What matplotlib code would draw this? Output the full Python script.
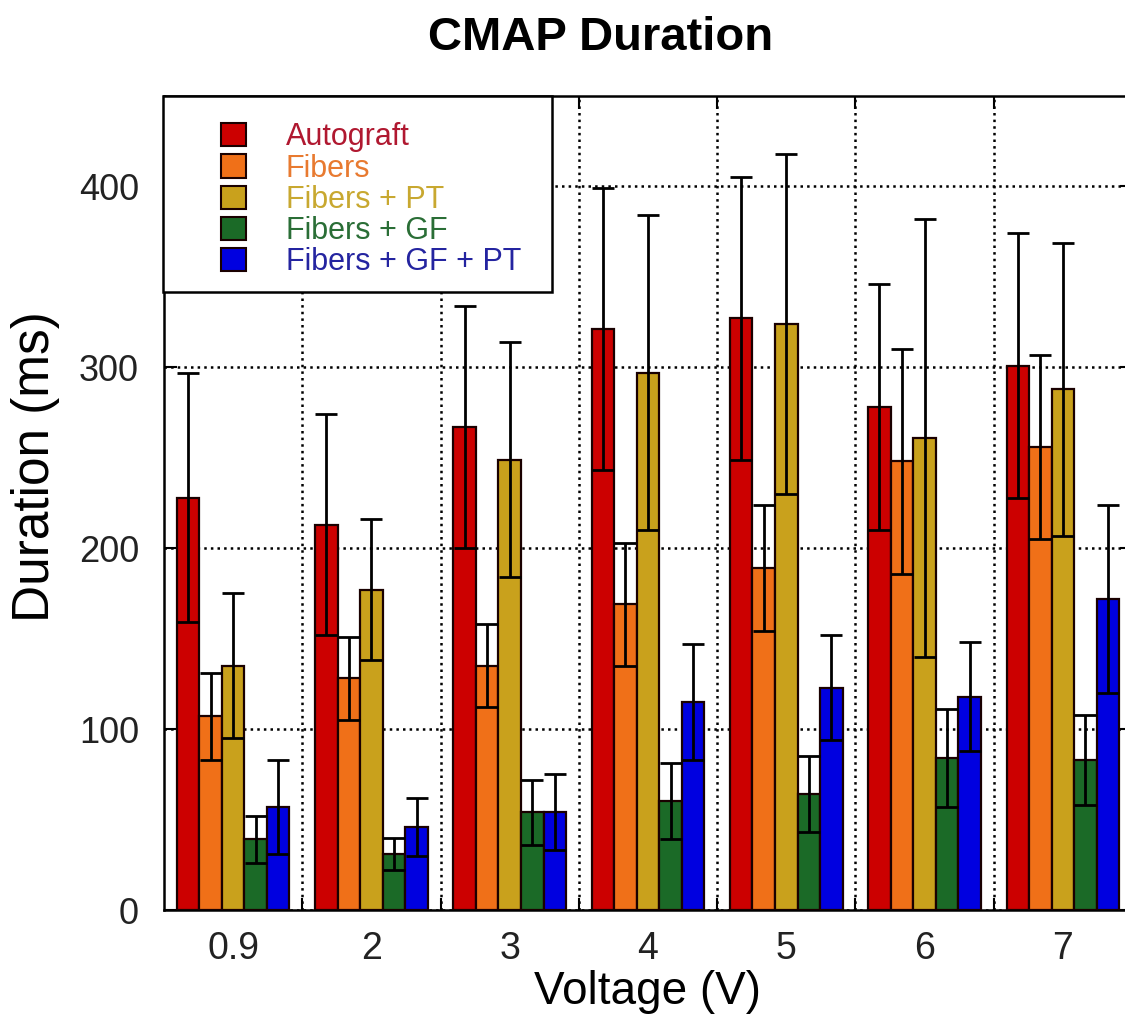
import matplotlib
matplotlib.use("Agg")
import matplotlib.pyplot as plt
import numpy as np
from matplotlib.patches import Rectangle, Patch

plt.rcParams['font.family'] = ['Liberation Sans', 'DejaVu Sans']

voltages = ["0.9", "2", "3", "4", "5", "6", "7"]

autograft = [228, 213, 267, 321, 327, 278, 301]
autograft_err = [69, 61, 67, 78, 78, 68, 73]
fibers = [107, 128, 135, 169, 189, 248, 256]
fibers_err = [24, 23, 23, 34, 35, 62, 51]
fibers_pt = [135, 177, 249, 297, 324, 261, 288]
fibers_pt_err = [40, 39, 65, 87, 94, 121, 81]
fibers_gf = [39, 31, 54, 60, 64, 84, 83]
fibers_gf_err = [13, 9, 18, 21, 21, 27, 25]
fibers_gf_pt = [57, 46, 54, 115, 123, 118, 172]
fibers_gf_pt_err = [26, 16, 21, 32, 29, 30, 52]

groups = ["Autograft", "Fibers", "Fibers + PT", "Fibers + GF", "Fibers + GF + PT"]
colors = ["#cc0000", "#f07018", "#c9a11c", "#1b6a27", "#0000e0"]
text_colors = ["#b01830", "#e87a30", "#c8a830", "#2a6e36", "#2424a0"]

series = [autograft, fibers, fibers_pt, fibers_gf, fibers_gf_pt]
errors = [autograft_err, fibers_err, fibers_pt_err, fibers_gf_err, fibers_gf_pt_err]

fig = plt.figure(figsize=(11.25, 10.21), dpi=100)
# axes runs a little past the right edge of the figure
ax = fig.add_axes([164 / 1125, 111 / 1021, 968 / 1125, 814 / 1021])

x = np.arange(len(voltages))
width = 0.163
for i, (vals, err) in enumerate(zip(series, errors)):
    pos = x + (i - 2) * width
    ax.bar(pos, vals, width, color=colors[i], edgecolor="#1a0000",
           linewidth=1.6, zorder=3)
    ax.errorbar(pos, vals, yerr=err, fmt="none", ecolor="black",
                elinewidth=2, capsize=8, capthick=2, zorder=4)

ax.set_xlim(-0.5, len(voltages) - 0.5)
ax.set_ylim(0, 450)

ax.set_xticks(x)
ax.set_xticklabels(voltages)
ax.set_xticks(x[:-1] + 0.5, minor=True)
ax.set_yticks([0, 100, 200, 300, 400])

ax.tick_params(axis="x", which="major", length=0, pad=15, labelsize=27)
ax.tick_params(axis="x", which="minor", direction="in", length=9, width=1.5,
               top=True, bottom=True)
ax.tick_params(axis="y", direction="in", length=9, width=1.5, pad=18,
               labelsize=26, right=True)
for lab in ax.get_xticklabels() + ax.get_yticklabels():
    lab.set_color("#222222")

ax.grid(True, axis="x", which="minor", linestyle=":", color="black", linewidth=1.8)
ax.grid(True, axis="y", which="major", linestyle=":", color="black", linewidth=1.8)
ax.set_axisbelow(True)

for sp in ax.spines.values():
    sp.set_linewidth(1.8)

ax.set_xlabel("Voltage (V)", fontsize=33, labelpad=2)
ax.set_ylabel("Duration (ms)", fontsize=37, va="center")
ax.yaxis.set_label_coords(-128 / 968, 0.545)

fig.text(601 / 1125, 1 - 38 / 1021, "CMAP Duration", ha="center", va="center",
         fontsize=34, fontweight="bold")

# legend box drawn separately so the square markers sit inset from the edge
box = Rectangle((-1 / 968, 1 - 196 / 814), 389 / 968, 196 / 814,
                transform=ax.transAxes, facecolor="white", edgecolor="black",
                linewidth=1.8, zorder=6, clip_on=False)
ax.add_patch(box)

handles = [Patch(facecolor=c, edgecolor="#1a0000", linewidth=1.5) for c in colors]
leg = ax.legend(handles, groups, loc="upper left",
                bbox_to_anchor=(36 / 968, 1 - 5 / 814), frameon=False,
                fontsize=22, handlelength=0.8, handleheight=0.8,
                handletextpad=1.3, labelspacing=0.04, borderpad=0.2)
leg.set_zorder(7)
for t, c in zip(leg.get_texts(), text_colors):
    t.set_color(c)

fig.savefig("out.png", dpi=100)
